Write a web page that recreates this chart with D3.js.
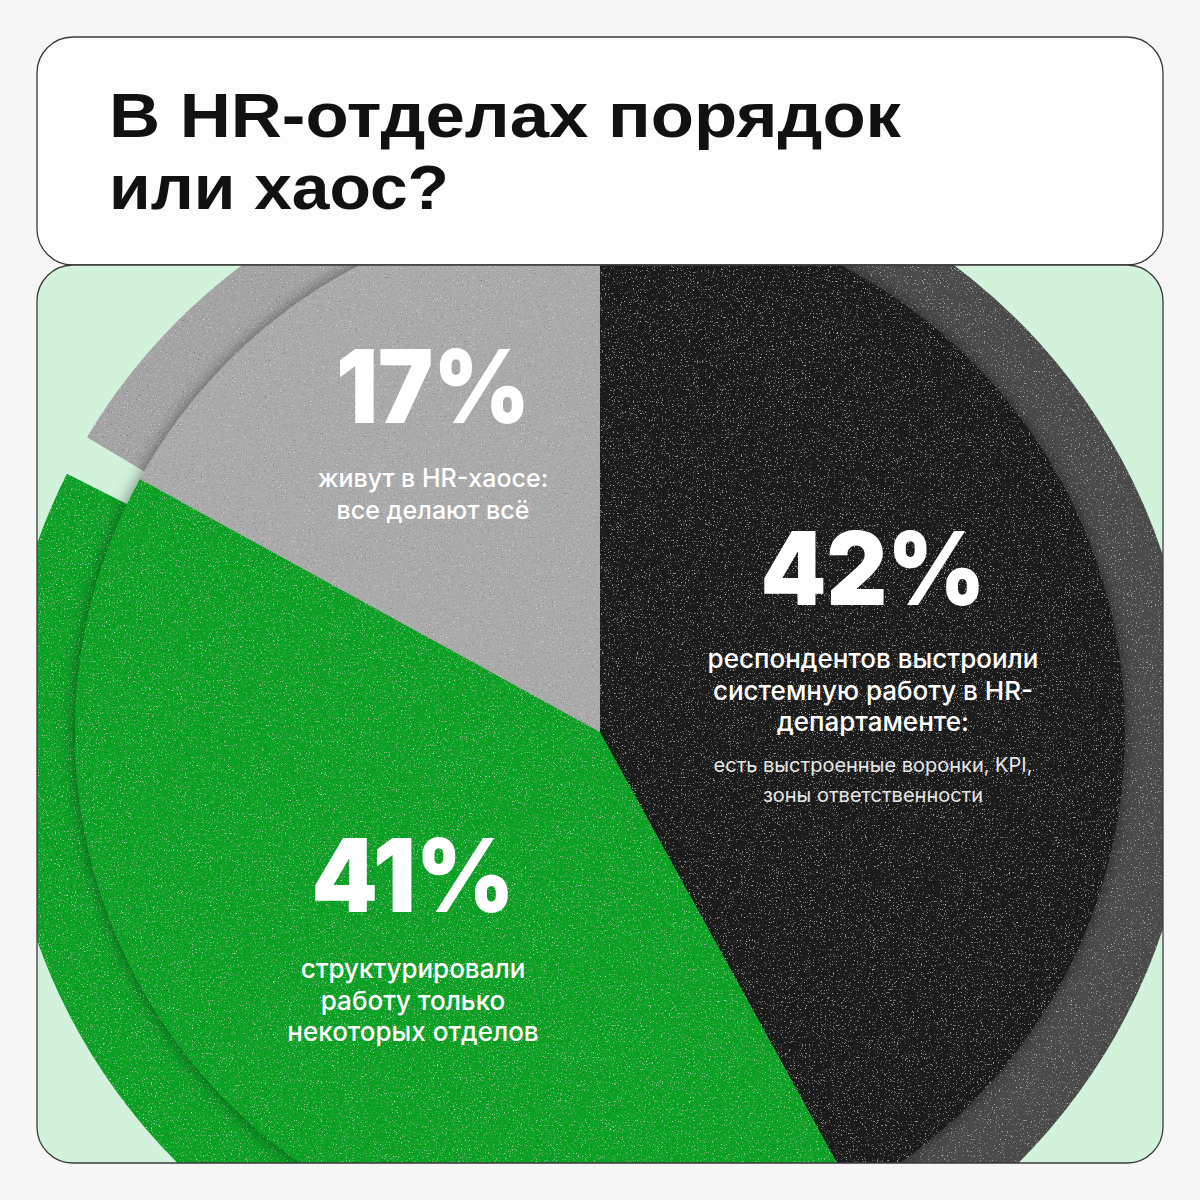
<!DOCTYPE html>
<html><head><meta charset="utf-8">
<script src="https://cdn.jsdelivr.net/npm/d3@7"></script>
<style>
html,body{margin:0;padding:0;background:#f6f6f6;}
svg{display:block}
</style></head><body>
<svg id="chart" width="1200" height="1200"></svg>
<script>
// ---- data ----
const categories = ["системная работа", "частично структурировали", "HR-хаос"];
const values = [42, 41, 17];
const percentLabels = ["42%", "41%", "17%"];
const captionMain = [
  ["респондентов выстроили", "системную работу в HR-", "департаменте:"],
  ["структурировали", "работу только", "некоторых отделов"],
  ["живут в HR-хаосе:", "все делают всё"]
];
const captionNote = [["есть выстроенные воронки, KPI,", "зоны ответственности"], [], []];
const titleLines = ["В HR-отделах порядок", "или хаос?"];

// ---- styles / layout ----
const frontColors = ["#1e1e1e", "#0ea226", "#aaaaaa"];
const backColors  = ["#4c4c4c", "#10a128", "#a4a4a4"];
const panel = {x: 37, y: 265, w: 1126, h: 898, r: 36};
const titleBox = {x: 37, y: 37, w: 1126, h: 228, r: 36};
const front = {cx: 600, cy: 732, r: 525};
const back = {cx: 598, cy: 742, r: 595, pad: 2 * Math.PI / 180};
const labelLayout = [
  {x: 873, pY: 605, pW: 225, capY: [668, 700, 731], capSize: 26, noteY: [772, 802]},
  {x: 413, pY: 912, pW: 203, capY: [978, 1010, 1041], capSize: 26, noteY: []},
  {x: 433, pY: 423, pW: 194, capY: [487, 519], capSize: 25, noteY: []}
];

const svg = d3.select("#chart");
const defs = svg.append("defs");

defs.append("clipPath").attr("id", "panelClip")
  .append("rect").attr("x", panel.x).attr("y", panel.y).attr("width", panel.w)
  .attr("height", panel.h).attr("rx", panel.r);

const sh = defs.append("filter").attr("id", "shadow")
  .attr("x", "-10%").attr("y", "-10%").attr("width", "120%").attr("height", "120%");
sh.append("feDropShadow").attr("dx", 0).attr("dy", 0).attr("stdDeviation", 8)
  .attr("flood-color", "#000").attr("flood-opacity", 0.5);

const gr = defs.append("filter").attr("id", "grain")
  .attr("x", "0").attr("y", "0").attr("width", "100%").attr("height", "100%");
gr.append("feTurbulence").attr("type", "fractalNoise").attr("baseFrequency", 0.75)
  .attr("numOctaves", 2).attr("seed", 7).attr("result", "noise");
gr.append("feColorMatrix").attr("in", "noise").attr("type", "matrix")
  .attr("values", "0 0 0 0 1  0 0 0 0 1  0 0 0 0 1  2.4 0 0 0 -1.52").attr("result", "light");
gr.append("feComposite").attr("in", "light").attr("in2", "SourceAlpha").attr("operator", "in").attr("result", "lightIn");
gr.append("feColorMatrix").attr("in", "noise").attr("type", "matrix")
  .attr("values", "0 0 0 0 0  0 0 0 0 0  0 0 0 0 0  0 2.2 0 0 -1.4").attr("result", "dark");
gr.append("feComposite").attr("in", "dark").attr("in2", "SourceAlpha").attr("operator", "in").attr("result", "darkIn");
const gm = gr.append("feMerge");
gm.append("feMergeNode").attr("in", "SourceGraphic");
gm.append("feMergeNode").attr("in", "lightIn");
gm.append("feMergeNode").attr("in", "darkIn");

// title box
svg.append("rect").attr("x", titleBox.x).attr("y", titleBox.y).attr("width", titleBox.w)
  .attr("height", titleBox.h).attr("rx", titleBox.r)
  .attr("fill", "#fdfdfd").attr("stroke", "#3a3a3a").attr("stroke-width", 1.3);

// panel background
svg.append("rect").attr("x", panel.x).attr("y", panel.y).attr("width", panel.w)
  .attr("height", panel.h).attr("rx", panel.r).attr("fill", "#d3f2dc");

const pie = d3.pie().sort(null).value(d => d);
const arcs = pie(values);

const clipped = svg.append("g").attr("clip-path", "url(#panelClip)");

// back (enlarged) pie
const backArc = d3.arc().innerRadius(0).outerRadius(back.r);
clipped.append("g").attr("filter", "url(#grain)")
  .attr("transform", `translate(${back.cx},${back.cy})`)
  .selectAll("path").data(arcs).join("path")
  .attr("d", d => backArc({startAngle: d.startAngle + back.pad, endAngle: d.endAngle - back.pad}))
  .attr("fill", (d, i) => backColors[i]);

// front pie
const frontArc = d3.arc().innerRadius(0).outerRadius(front.r);
clipped.append("g").attr("filter", "url(#shadow)")
  .append("g").attr("filter", "url(#grain)")
  .attr("transform", `translate(${front.cx},${front.cy})`)
  .selectAll("path").data(arcs).join("path")
  .attr("d", frontArc)
  .attr("fill", (d, i) => frontColors[i]);

// panel border
svg.append("rect").attr("x", panel.x).attr("y", panel.y).attr("width", panel.w)
  .attr("height", panel.h).attr("rx", panel.r)
  .attr("fill", "none").attr("stroke", "#3a3a3a").attr("stroke-width", 1.3);

// title
const titleY = [137, 209];
const titleW = [792, 340];
svg.append("g").selectAll("text").data(titleLines).join("text")
  .attr("x", 109).attr("y", (d, i) => titleY[i])
  .attr("font-family", "'Liberation Sans', Arial, sans-serif").attr("font-weight", 700)
  .attr("font-size", 63).attr("fill", "#111")
  .attr("textLength", (d, i) => titleW[i]).attr("lengthAdjust", "spacingAndGlyphs")
  .text(d => d);

// labels
const labels = svg.append("g").attr("fill", "#fff").attr("text-anchor", "middle")
  .attr("font-family", "Inter, 'Noto Sans', sans-serif");
arcs.forEach((a, i) => {
  const L = labelLayout[i];
  labels.append("text").attr("x", L.x).attr("y", L.pY)
    .attr("font-weight", 900).attr("font-size", 102)
    .attr("textLength", L.pW).attr("lengthAdjust", "spacingAndGlyphs")
    .text(percentLabels[i]);
  captionMain[i].forEach((line, j) => {
    labels.append("text").attr("x", L.x).attr("y", L.capY[j])
      .attr("font-weight", 500).attr("font-size", L.capSize).text(line);
  });
  captionNote[i].forEach((line, j) => {
    labels.append("text").attr("x", L.x).attr("y", L.noteY[j])
      .attr("font-weight", 400).attr("font-size", 20).attr("fill", "#e6e6e6").text(line);
  });
});
</script>
</body></html>
